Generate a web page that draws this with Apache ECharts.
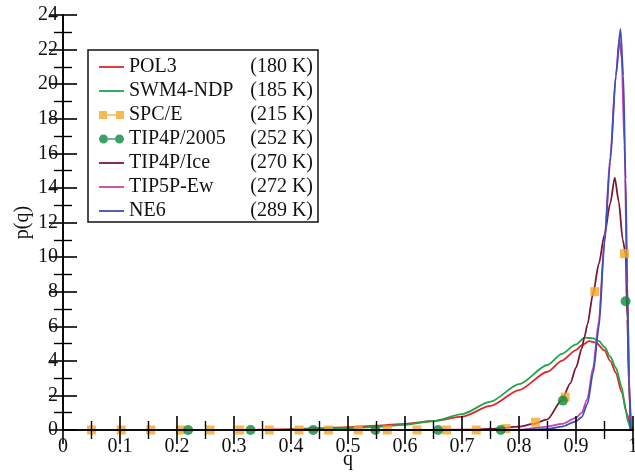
<!DOCTYPE html>
<html><head><meta charset="utf-8">
<script src="https://cdn.jsdelivr.net/npm/echarts@6/dist/echarts.min.js"></script>
<style>html,body{margin:0;padding:0;background:#fff}#c{width:635px;height:474px}</style>
</head><body><div id="c"></div>
<script>
// ---- data ----
const modelNames = ['POL3', 'SWM4-NDP', 'SPC/E', 'TIP4P/2005', 'TIP4P/Ice', 'TIP5P-Ew', 'NE6'];
const modelTemps = ['(180 K)', '(185 K)', '(215 K)', '(252 K)', '(270 K)', '(272 K)', '(289 K)'];
const xTicks = [0, 0.1, 0.2, 0.3, 0.4, 0.5, 0.6, 0.7, 0.8, 0.9, 1];
const yTicks = [0, 2, 4, 6, 8, 10, 12, 14, 16, 18, 20, 22, 24];

const qPol3 = [0.30, 0.35, 0.40, 0.45, 0.50, 0.55, 0.60, 0.65, 0.70, 0.75, 0.80, 0.85, 0.875, 0.90, 0.91, 0.923, 0.935, 0.95, 0.96, 0.97, 0.98, 0.99, 0.995, 1.0];
const pPol3 = [0.00, 0.02, 0.05, 0.10, 0.17, 0.25, 0.36, 0.52, 0.77, 1.39, 2.31, 3.37, 4.00, 4.62, 4.90, 5.14, 5.05, 4.60, 4.00, 3.30, 2.20, 0.90, 0.30, 0.00];

const qSwm4 = [0.35, 0.40, 0.45, 0.50, 0.55, 0.60, 0.65, 0.70, 0.75, 0.80, 0.85, 0.875, 0.90, 0.915, 0.93, 0.94, 0.95, 0.96, 0.97, 0.98, 0.987, 0.992, 0.996];
const pSwm4 = [0.00, 0.02, 0.05, 0.10, 0.18, 0.30, 0.52, 0.92, 1.64, 2.65, 3.76, 4.40, 4.95, 5.34, 5.30, 5.15, 4.80, 4.25, 3.60, 2.50, 1.15, 0.40, 0.00];

const qSpce = [0.050, 0.102, 0.154, 0.206, 0.258, 0.310, 0.362, 0.414, 0.466, 0.518, 0.569, 0.621, 0.673, 0.725, 0.777, 0.829, 0.881, 0.933, 0.985];
const pSpce = [0, 0, 0, 0, 0, 0, 0, 0, 0, 0, 0, 0, 0, 0, 0.08, 0.45, 1.9, 8.0, 10.2];

const qTip4p2005 = [0.2195, 0.329, 0.439, 0.548, 0.658, 0.768, 0.877, 0.987];
const pTip4p2005 = [0, 0, 0, 0, 0, 0, 1.7, 7.45];

const qTip4pIce = [0.60, 0.70, 0.75, 0.80, 0.825, 0.85, 0.875, 0.89, 0.90, 0.91, 0.915, 0.92, 0.93, 0.94, 0.95, 0.96, 0.968, 0.975, 0.982, 0.987, 0.99, 0.993, 0.996];
const pTip4pIce = [0.00, 0.02, 0.06, 0.19, 0.35, 0.62, 1.73, 2.70, 3.60, 4.70, 5.40, 6.10, 7.90, 9.60, 11.30, 13.10, 14.60, 13.20, 11.00, 10.20, 6.40, 2.50, 0.00];

const qTip5pEw = [0.75, 0.80, 0.85, 0.875, 0.90, 0.91, 0.92, 0.93, 0.94, 0.95, 0.96, 0.97, 0.976, 0.98, 0.985, 0.99, 0.994, 0.997];
const pTip5pEw = [0.00, 0.02, 0.20, 0.35, 0.70, 1.00, 1.80, 3.60, 6.30, 11.0, 15.8, 20.5, 22.6, 21.5, 16.5, 8.0, 2.0, 0.0];

const qNe6 = [0.75, 0.80, 0.85, 0.875, 0.90, 0.91, 0.92, 0.93, 0.94, 0.95, 0.96, 0.97, 0.978, 0.983, 0.987, 0.99, 0.993, 0.996];
const pNe6 = [0.00, 0.00, 0.06, 0.20, 0.50, 0.75, 1.50, 3.30, 5.90, 10.8, 15.5, 20.5, 23.2, 20.5, 14.5, 8.5, 3.0, 0.0];

const zip = (a, b) => a.map((v, i) => [v, b[i]]);

// ---- chart ----
const FONT = 'Liberation Serif';
const colors = ['#e3262b', '#1ea54b', '#f5a623', '#0b8a3e', '#7a1a30', '#c244b4', '#3d4fb8'];
const chart = echarts.init(document.getElementById('c'));

const tempOf = {};
modelNames.forEach((n, i) => { tempOf[n] = modelTemps[i]; });

const lineIcon = 'path://M0,0h25v1.8h-25z';
const squareIcon = 'path://M0,0h8v8h-8zM8,3.2h9v1.6h-9zM17,0h8v8h-8z';
const circleIcon = 'path://M0,4.5a4.5,4.5 0 1,0 9,0a4.5,4.5 0 1,0 -9,0zM9,3.7h7v1.6h-7zM16,4.5a4.5,4.5 0 1,0 9,0a4.5,4.5 0 1,0 -9,0z';

function lineSeries(i, q, p) {
  return {
    name: modelNames[i], type: 'line', data: zip(q, p),
    showSymbol: false, symbol: 'none', smooth: 0.25, smoothMonotone: 'x',
    lineStyle: { color: colors[i], width: 1.8 }, itemStyle: { color: colors[i] },
    z: 2
  };
}

const axisCommon = {
  min: 0,
  axisLine: { show: true, lineStyle: { color: '#000', width: 1.6 } },
  axisTick: { show: true, inside: true, length: 14, lineStyle: { color: '#000', width: 1.6 } },
  minorTick: { show: true, splitNumber: 2, length: 9, lineStyle: { color: '#000', width: 1.4 } },
  splitLine: { show: false },
  z: 5
};

chart.setOption({
  animation: false,
  backgroundColor: '#fff',
  textStyle: { fontFamily: FONT },
  grid: { left: 63, right: 2, top: 15, bottom: 44, containLabel: false, outerBoundsMode: 'none' },
  legend: {
    orient: 'vertical', left: 88, top: 50,
    padding: [7, 5, 1, 11], itemGap: 4, itemWidth: 25, itemHeight: 10,
    symbolKeepAspect: true,
    borderColor: '#111', borderWidth: 1.5, backgroundColor: '#fff',
    selectedMode: false,
    data: modelNames.map((n, i) => {
      if (i === 2) return { name: n, icon: squareIcon };
      if (i === 3) return { name: n, icon: circleIcon };
      return { name: n, icon: lineIcon };
    }),
    formatter: n => '{n|' + n + '}{t|' + tempOf[n] + '}',
    textStyle: {
      fontFamily: FONT, fontSize: 20, color: '#111',
      rich: {
        n: { width: 111, fontFamily: FONT, fontSize: 20, lineHeight: 20, color: '#111' },
        t: { width: 73, align: 'right', fontFamily: FONT, fontSize: 20, lineHeight: 20, color: '#111' }
      }
    }
  },
  xAxis: [
    Object.assign({}, axisCommon, {
      type: 'value', max: 1, interval: 0.1, position: 'bottom',
      name: 'q', nameLocation: 'middle', nameGap: 20, nameMoveOverlap: false,
      nameTextStyle: { fontFamily: FONT, fontSize: 20, color: '#111' },
      axisLabel: { show: true, margin: 7, fontFamily: FONT, fontSize: 20, color: '#111',
        formatter: v => { const t = xTicks.find(x => Math.abs(x - v) < 1e-9); return t === undefined ? '' : String(t); } }
    }),
    Object.assign({}, axisCommon, {
      type: 'value', max: 1, interval: 0.1, position: 'top',
      axisLabel: { show: false }
    })
  ],
  yAxis: [
    Object.assign({}, axisCommon, {
      type: 'value', max: 24, interval: 2, position: 'left',
      name: 'p(q)', nameLocation: 'middle', nameGap: 30, nameRotate: 90, nameMoveOverlap: false,
      nameTextStyle: { fontFamily: FONT, fontSize: 20, color: '#111' },
      axisLabel: { show: true, margin: 5, fontFamily: FONT, fontSize: 20, color: '#111',
        formatter: v => { const t = yTicks.find(y => Math.abs(y - v) < 1e-9); return t === undefined ? '' : String(t); } }
    }),
    Object.assign({}, axisCommon, {
      type: 'value', max: 24, interval: 2, position: 'right',
      axisLabel: { show: false }
    })
  ],
  series: [
    lineSeries(0, qPol3, pPol3),
    lineSeries(1, qSwm4, pSwm4),
    lineSeries(4, qTip4pIce, pTip4pIce),
    lineSeries(5, qTip5pEw, pTip5pEw),
    lineSeries(6, qNe6, pNe6),
    {
      name: modelNames[2], type: 'scatter', data: zip(qSpce, pSpce),
      symbol: 'rect', symbolSize: 9, clip: false,
      itemStyle: { color: colors[2] }, z: 3
    },
    {
      name: modelNames[3], type: 'scatter', data: zip(qTip4p2005, pTip4p2005),
      symbol: 'circle', symbolSize: 10, clip: false,
      itemStyle: { color: colors[3] }, z: 3
    }
  ]
});
</script></body></html>
